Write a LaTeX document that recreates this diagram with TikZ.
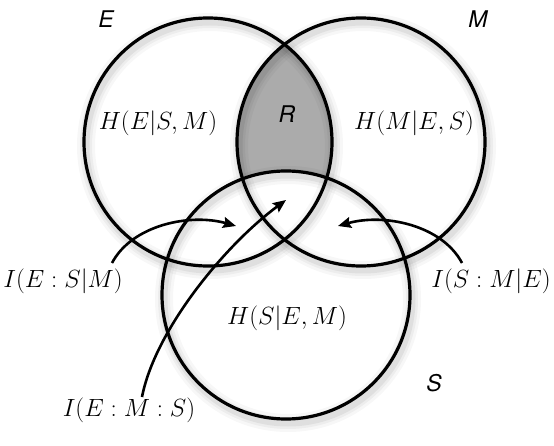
\documentclass[tikz,border=0pt]{standalone}
\usepackage{fontspec}
\usetikzlibrary{arrows.meta}
\newfontfamily\helvfont{TeX Gyre Heros}
\definecolor{lensGray}{HTML}{ABABAB}

\begin{document}
\begin{tikzpicture}[x=1pt, y=-1pt,
    set/.style={draw=black, line width=3.2pt},
    setname/.style={font=\fontsize{23}{27}\selectfont\helvfont\itshape},
    region/.style={font=\fontsize{24}{28}\selectfont},
    link/.style={line width=2.6pt, -{Stealth[length=13pt,width=11pt,inset=2pt]}}
  ]
  \useasboundingbox (0,0) rectangle (554,446);

  \coordinate (cE) at (208,142);
  \coordinate (cM) at (361,142);
  \coordinate (cS) at (286,295);

  \begin{scope}
    \clip (cE) circle[radius=124pt];
    \clip (cM) circle[radius=124pt];
    \fill[lensGray] (cE) circle[radius=124pt];
    \fill[white] (cS) circle[radius=124pt];
  \end{scope}

  \foreach \w/\o in {18/0.03, 12/0.04, 7/0.06} {
    \draw[line width=\w pt, black, opacity=\o] ([shift={(2,4)}]cE) circle[radius=124pt];
    \draw[line width=\w pt, black, opacity=\o] ([shift={(2,4)}]cM) circle[radius=124pt];
    \draw[line width=\w pt, black, opacity=\o] ([shift={(2,4)}]cS) circle[radius=124pt];
  }

  \draw[set] (cE) circle[radius=124pt];
  \draw[set] (cM) circle[radius=124pt];
  \draw[set] (cS) circle[radius=124pt];

  \node[setname] (nE) at (106,19) {E};
  \node[setname] (nM) at (478,19) {M};
  \node[setname] (nS) at (434,383) {S};
  \node[setname] (nR) at (287,114) {R};

  \node[region] (hE) at (158,123) {$H(E|S,M)$};
  \node[region] (hM) at (414,123) {$H(M|E,S)$};
  \node[region] (hS) at (287,318) {$H(S|E,M)$};

  \node[region] (iES) at (63,281) {$I(E:S|M)$};
  \node[region] (iSM) at (491,281) {$I(S:M|E)$};
  \node[region] (iEMS) at (129,410) {$I(E:M:S)$};

  \coordinate (tES) at (112,263);
  \coordinate (hdES) at (236,226);
  \coordinate (tSM) at (462,263);
  \coordinate (hdSM) at (338,226);
  \coordinate (tEMS) at (142,397);
  \coordinate (hdEMS) at (286,200);

  \draw[link] (tES) .. controls (132,225) and (190,213) .. (hdES);
  \draw[link] (tSM) .. controls (442,225) and (384,213) .. (hdSM);
  \draw[link] (tEMS) .. controls (155,330) and (225,245) .. (hdEMS);
\end{tikzpicture}
\end{document}
